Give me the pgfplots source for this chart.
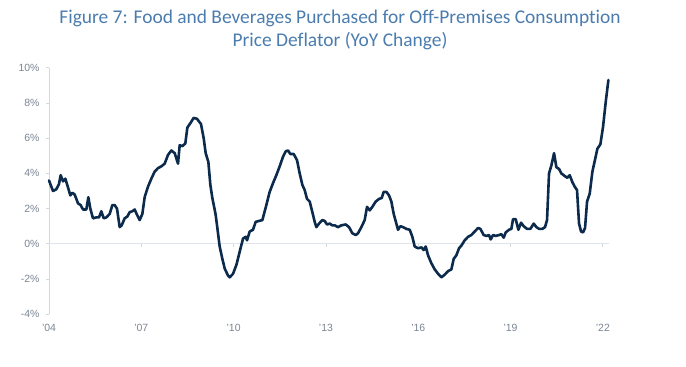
\documentclass[border=0pt]{standalone}
\usepackage{fontspec}
\setmainfont{Liberation Sans}
\newfontfamily\titlefont[Ligatures={NoCommon,NoContextual}]{Carlito}
\usepackage{pgfplots}
\pgfplotsset{compat=1.18}
\definecolor{navy}{HTML}{0C2A4C}
\definecolor{ttl}{HTML}{4A7CAE}
\definecolor{lbl}{HTML}{7A8593}
\definecolor{axl}{HTML}{D3D8DD}
\definecolor{zl}{HTML}{DFE5EA}
\begin{document}
\begin{tikzpicture}
\path[use as bounding box] (0,0) rectangle (686bp,-367bp);
\node[anchor=base, text=ttl, font=\titlefont\fontsize{19.5}{22}\selectfont] at (340bp,-23bp) {Figure 7: Food and Beverages Purchased for Off-Premises Consumption};
\node[anchor=base, text=ttl, font=\titlefont\fontsize{19.5}{22}\selectfont] at (340bp,-46.5bp) {Price Deflator (YoY Change)};
\begin{axis}[
  at={(49bp,-314.3bp)}, anchor=south west,
  scale only axis, width=560bp, height=246.6bp,
  x filter/.expression={x-2004},
  xmin=0, xmax=18.2, ymin=-4, ymax=10,
  axis y line*=left, axis x line*=bottom,
  x axis line style={draw=none},
  y axis line style={draw=axl, line width=0.8bp},
  xtick={0,3,6,9,12,15,18},
  xticklabels={'04,'07,'10,'13,'16,'19,'22},
  ytick={-4,-2,0,2,4,6,8,10},
  yticklabels={{-4\%},{-2\%},{0\%},{2\%},{4\%},{6\%},{8\%},{10\%}},
  tick align=outside,
  major tick length=3bp,
  xtick style={draw=none},
  ytick style={draw=axl, line width=0.8bp},
  ticklabel style={font=\fontsize{10.5}{12}\selectfont, text=lbl},
  yticklabel style={xshift=-3bp},
  xticklabel style={yshift=-3bp},
  clip=false,
]
\addplot[draw=zl, line width=1bp, forget plot] coordinates {(2004,0) (2022.2,0)};
\addplot[draw=none, mark=|, mark size=1.5bp, mark options={draw=axl, line width=0.8bp, yshift=-1.5bp}, forget plot] coordinates {(2007,0) (2010,0) (2013,0) (2016,0) (2019,0) (2022,0)};
\addplot[navy, line width=2.6bp, line join=round, line cap=round] coordinates {
(2004.000,3.60) (2004.130,3.00) (2004.238,3.10) (2004.325,3.40) (2004.379,3.90)
(2004.455,3.55) (2004.531,3.70) (2004.618,3.20) (2004.693,2.75) (2004.758,2.90)
(2004.834,2.80) (2004.943,2.30) (2005.029,2.20) (2005.105,1.95) (2005.213,1.95)
(2005.278,2.65) (2005.343,2.00) (2005.430,1.45) (2005.538,1.50) (2005.625,1.50)
(2005.701,1.85) (2005.777,1.45) (2005.863,1.50) (2005.972,1.70) (2006.059,2.20)
(2006.134,2.20) (2006.210,2.00) (2006.297,0.95) (2006.362,1.05) (2006.459,1.45)
(2006.546,1.55) (2006.622,1.80) (2006.709,1.85) (2006.784,1.95) (2006.860,1.65)
(2006.947,1.35) (2007.034,1.70) (2007.109,2.65) (2007.218,3.25) (2007.326,3.70)
(2007.434,4.10) (2007.543,4.30) (2007.651,4.40) (2007.759,4.55) (2007.868,5.05)
(2007.976,5.30) (2008.085,5.15) (2008.193,4.55) (2008.247,5.60) (2008.334,5.55)
(2008.431,5.70) (2008.496,6.60) (2008.594,6.85) (2008.702,7.15) (2008.810,7.10)
(2008.940,6.80) (2009.027,6.00) (2009.092,5.15) (2009.179,4.65) (2009.244,3.35)
(2009.309,2.60) (2009.417,1.65) (2009.493,0.60) (2009.547,-0.15) (2009.634,-0.85)
(2009.710,-1.40) (2009.818,-1.80) (2009.872,-1.90) (2009.981,-1.70) (2010.089,-1.20)
(2010.197,-0.45) (2010.306,0.30) (2010.392,0.40) (2010.436,0.20) (2010.522,0.70)
(2010.631,0.80) (2010.717,1.25) (2010.826,1.30) (2010.934,1.35) (2011.064,2.20)
(2011.172,2.95) (2011.281,3.45) (2011.389,3.90) (2011.497,4.40) (2011.606,4.95)
(2011.692,5.25) (2011.768,5.30) (2011.844,5.10) (2011.952,5.10) (2012.061,4.75)
(2012.147,4.00) (2012.234,3.35) (2012.310,3.05) (2012.386,2.55) (2012.472,2.40)
(2012.559,1.80) (2012.635,1.25) (2012.689,0.95) (2012.776,1.15) (2012.884,1.35)
(2012.960,1.30) (2013.036,1.10) (2013.123,1.15) (2013.209,1.05) (2013.285,1.05)
(2013.393,0.95) (2013.502,1.05) (2013.643,1.10) (2013.751,0.95) (2013.859,0.60)
(2013.968,0.50) (2014.043,0.60) (2014.152,0.95) (2014.260,1.35) (2014.336,2.10)
(2014.423,1.90) (2014.509,2.10) (2014.618,2.40) (2014.726,2.55) (2014.813,2.60)
(2014.878,2.95) (2014.964,2.95) (2015.051,2.75) (2015.127,2.40) (2015.203,1.70)
(2015.289,1.15) (2015.343,0.80) (2015.419,1.00) (2015.506,0.95) (2015.614,0.85)
(2015.723,0.80) (2015.809,0.40) (2015.885,-0.15) (2015.993,-0.25) (2016.102,-0.20)
(2016.178,-0.35) (2016.243,-0.15) (2016.319,-0.65) (2016.427,-1.10) (2016.536,-1.45)
(2016.644,-1.70) (2016.752,-1.90) (2016.861,-1.75) (2016.969,-1.55) (2017.077,-1.45)
(2017.153,-0.85) (2017.239,-0.65) (2017.326,-0.25) (2017.402,-0.10) (2017.510,0.20)
(2017.619,0.40) (2017.727,0.50) (2017.835,0.70) (2017.944,0.90) (2018.020,0.85)
(2018.128,0.50) (2018.215,0.45) (2018.301,0.50) (2018.355,0.25) (2018.431,0.50)
(2018.518,0.45) (2018.626,0.50) (2018.702,0.55) (2018.778,0.35) (2018.843,0.65)
(2018.951,0.80) (2019.027,0.85) (2019.081,1.40) (2019.168,1.40) (2019.255,0.80)
(2019.341,1.20) (2019.428,1.00) (2019.536,0.85) (2019.645,0.85) (2019.753,1.15)
(2019.840,0.95) (2019.926,0.85) (2020.035,0.85) (2020.121,0.95) (2020.186,1.35)
(2020.251,4.00) (2020.327,4.45) (2020.414,5.15) (2020.490,4.35) (2020.576,4.25)
(2020.652,4.00) (2020.760,3.85) (2020.847,3.75) (2020.923,3.90) (2021.010,3.50)
(2021.085,3.25) (2021.161,3.05) (2021.226,1.15) (2021.292,0.70) (2021.356,0.65)
(2021.421,0.90) (2021.487,2.40) (2021.573,2.85) (2021.660,4.10) (2021.736,4.70)
(2021.822,5.40) (2021.920,5.65) (2022.007,6.65) (2022.093,8.05) (2022.180,9.30)
};
\end{axis}
\end{tikzpicture}
\end{document}
